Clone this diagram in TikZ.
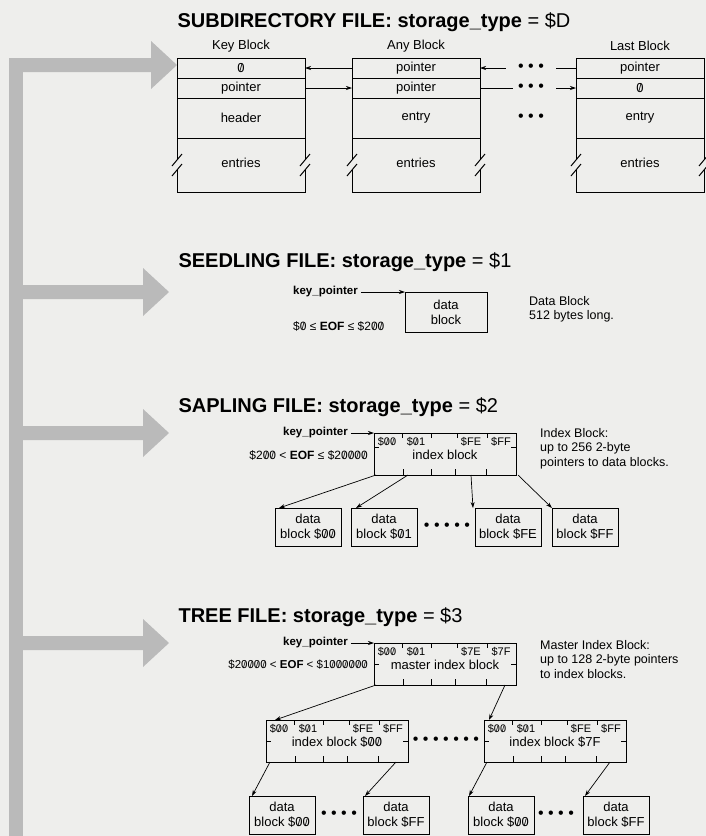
\documentclass[tikz,border=0pt]{standalone}
\usepackage{fontspec}
\usepackage{graphicx}
\setmainfont{Liberation Sans}
\usetikzlibrary{arrows.meta}
\definecolor{paper}{RGB}{238,238,236}
\definecolor{bargray}{RGB}{186,186,186}
\newcommand{\zs}{\ooalign{0\cr\hidewidth\raisebox{.05em}{\scalebox{.8}{/}}\hidewidth\cr}}
\newcommand{\boxfont}{\fontsize{13}{15}\selectfont}
\newcommand{\lblfont}{\fontsize{12}{14}\selectfont}
\newcommand{\descfont}{\fontsize{12.5}{14.5}\selectfont}
\newcommand{\cellfont}{\fontsize{11}{12}\selectfont}
\newcommand{\bdots}[1]{\foreach \bi in {1,...,#1}{\ifnum\bi>1 \hspace{4.5pt}\fi\textbullet}}
\begin{document}
\begin{tikzpicture}[x=1pt, y=-1pt,
  blk/.style={line width=1pt},
  row/.style={draw, line width=1pt, outer sep=0pt, minimum width=128pt, inner sep=0pt, font=\boxfont},
  dblk/.style={draw, line width=1pt, outer sep=0pt, minimum width=66pt, minimum height=38pt, inner sep=0pt, align=center, font=\boxfont},
  ixblk/.style={draw, line width=1pt, outer sep=0pt, minimum width=142pt, minimum height=42pt, inner sep=0pt, anchor=north west},
  tick/.style={line width=0.7pt},
  ptr/.style={line width=0.7pt, -{Stealth[length=6pt, width=4pt]}},
  ttl/.style={anchor=base west, font=\fontsize{20}{24}\selectfont\bfseries},
  lbl/.style={font=\lblfont, inner sep=0pt},
  desc/.style={font=\descfont, inner sep=0pt, anchor=north west, align=left},
  kp/.style={inner sep=0pt, font=\fontsize{11.5}{14}\selectfont\bfseries, anchor=west},
  dots/.style={font=\fontsize{16}{16}\selectfont, inner sep=0pt}]
\useasboundingbox (0,0) rectangle (706,836);
\fill[paper] (0,0) rectangle (706,836);
\fill[bargray] (9,58) rectangle (23,836);
\foreach \cy/\tx in {65/177, 292/169, 433/169, 643/169}
  \fill[bargray] (9,\cy-7) -- (\tx-26,\cy-7) -- (\tx-26,\cy-24) -- (\tx,\cy) -- (\tx-26,\cy+24) -- (\tx-26,\cy+7) -- (9,\cy+7) -- cycle;

\node[ttl] (subttl) at (174,27) {SUBDIRECTORY FILE: storage\_type \textmd{= \$D}};
\node[ttl] (seedttl) at (175,267) {SEEDLING FILE: storage\_type \textmd{= \$1}};
\node[ttl] (sapttl) at (175,412) {SAPLING FILE: storage\_type \textmd{= \$2}};
\node[ttl] (treettl) at (175,622) {TREE FILE: storage\_type \textmd{= \$3}};

\foreach \x/\nm/\ra/\rb/\rc/\hd in {177/key/\zs/pointer/header/Key Block, 352/any/pointer/pointer/entry/Any Block, 576/last/pointer/\zs/entry/Last Block}{
  \node[font=\boxfont] (\nm0) at (\x+64,46) {\hd};
  \node[row, minimum height=20pt] (\nm1) at (\x+64,68) {\ra};
  \node[row, minimum height=20pt] (\nm2) at (\x+64,88) {\rb};
  \node[row, minimum height=40pt] (\nm3) at (\x+64,118) {\rc};
  \node[font=\boxfont] (\nm4) at (\x+64,163) {entries};
  \draw[blk] (\nm3.south west) -- ++(0,22) ++(0,10) -- ++(0,22) -- ++(128,0) -- ++(0,-22) ++(0,-10) -- ++(0,-22);
  \foreach \sx in {0,128} \foreach \sy in {22,32}
    \draw[blk] (\nm3.south west) ++(\sx,\sy) ++(-5,6) -- ++(10,-12);
}
\foreach \bj/\yy in {1/68, 2/88, 3/118}
  \node[dots] (dots\bj) at (531,\yy) {\bdots{3}};
\draw[ptr] (any1.west) -- (key1.east);
\draw[ptr] (key2.east) -- (any2.west);
\draw[ptr, shorten <=12pt] (dots1.west) -- (any1.east);
\draw[line width=0.7pt, shorten <=12pt] (dots1.east) -- (last1.west);
\draw[line width=0.7pt, shorten >=5pt] (any2.east) -- (dots2.west);
\draw[ptr, shorten <=12pt] (dots2.east) -- (last2.west);

\node[kp] (skey) at (293,292) {key\_pointer};
\node[dblk, minimum width=82pt, minimum height=40pt, anchor=north west] (sdata) at (405,292) {data\\block};
\node[lbl, anchor=west] (seof) at (293,326) {\$\zs{} ≤ \textbf{EOF} ≤ \$2\zs\zs};
\node[desc] (sdesc) at (529,296) {Data Block\\512 bytes long.};
\draw[ptr, shorten <=3pt] (skey.east) -- (sdata.north west);

\foreach \x/\y/\nm/\la/\lb/\lc/\ld/\txt/\sy in {374/433/pidx/\$\zs\zs/\$\zs1/\$FE/\$FF/index block/14, 374/643/mst/\$\zs\zs/\$\zs1/\$7E/\$7F/master index block/21, 266/720/idxa/\$\zs\zs/\$\zs1/\$FE/\$FF/index block \$\zs\zs/21, 484/720/idxb/\$\zs\zs/\$\zs1/\$FE/\$FF/index block \$7F/21}{
  \node[ixblk] (\nm) at (\x,\y) {};
  \node[font=\boxfont] (\nm-t) at (\x+71,\y+22) {\txt};
  \foreach \cx/\cl/\kk in {13/\la/a, 42/\lb/b, 97/\lc/c, 127/\ld/d}
    \node[font=\cellfont, inner sep=0pt] (\nm-\kk) at (\x+\cx,\y+9) {\cl};
  \foreach \tx in {28,57,83,113} \draw[tick] (\x+\tx,\y) -- ++(0,5);
  \foreach \tx in {29,57,81,112} \draw[tick] (\x+\tx,\y+42) -- ++(0,-6);
  \draw[tick] (\x,\y+\sy) -- ++(5,0) (\x+142,\y+\sy) -- ++(-5,0);
}

\node[kp] (pkey) at (283,433) {key\_pointer};
\node[lbl, anchor=east] (peof) at (368,455) {\$2\zs\zs{} < \textbf{EOF} ≤ \$2\zs\zs\zs\zs};
\node[desc] (pdesc) at (540,428) {Index Block:\\up to 256 2-byte\\pointers to data blocks.};
\draw[ptr, shorten <=3pt] (pkey.east) -- (pidx.north west);
\foreach \cx/\nm/\v in {308/pd1/\$\zs\zs, 384/pd2/\$\zs1, 508/pd3/\$FE, 585/pd4/\$FF}
  \node[dblk] (\nm) at (\cx,527) {data\\block \v};
\node[dots] (pdots) at (447,527) {\bdots{5}};
\draw[ptr] ([xshift=2pt]pidx.south west) -- ([xshift=4pt]pd1.north west);
\draw[ptr] ([xshift=34pt]pidx.south west) -- ([xshift=5pt]pd2.north west);
\draw[ptr] ([xshift=97pt]pidx.south west) -- ([xshift=-2pt]pd3.north west);
\draw[ptr] ([xshift=2pt]pidx.south east) -- (pd4.north west);

\node[kp] (tkey) at (283,643) {key\_pointer};
\node[lbl, font=\fontsize{11.5}{14}\selectfont, anchor=east] (teof) at (368,665) {\$2\zs\zs\zs\zs{} < \textbf{EOF} < \$1\zs\zs\zs\zs\zs\zs};
\node[desc] (tdesc) at (540,640) {Master Index Block:\\up to 128 2-byte pointers\\to index blocks.};
\draw[ptr, shorten <=3pt] (tkey.east) -- (mst.north west);
\draw[ptr] ([xshift=2pt]mst.south west) -- ([xshift=9pt]idxa.north west);
\draw[ptr] ([xshift=131pt]mst.south west) -- ([xshift=5pt]idxb.north west);
\node[dots] (tdots) at (446,741) {\bdots{7}};
\foreach \cx/\nm/\v in {282/td1/\$\zs\zs, 396/td2/\$FF, 501/td3/\$\zs\zs, 616/td4/\$FF}
  \node[dblk] (\nm) at (\cx,815) {data\\block \v};
\node[dots] (tdots1) at (339,815) {\bdots{4}};
\node[dots] (tdots2) at (556,815) {\bdots{4}};
\draw[ptr] ([xshift=4pt]idxa.south west) -- ([xshift=3pt]td1.north west);
\draw[ptr] ([xshift=130pt]idxa.south west) -- ([xshift=2pt]td2.north west);
\draw[ptr] ([xshift=3pt]idxb.south west) -- ([xshift=1pt]td3.north west);
\draw[ptr] ([xshift=126pt]idxb.south west) -- ([xshift=2pt]td4.north west);
\end{tikzpicture}
\end{document}
